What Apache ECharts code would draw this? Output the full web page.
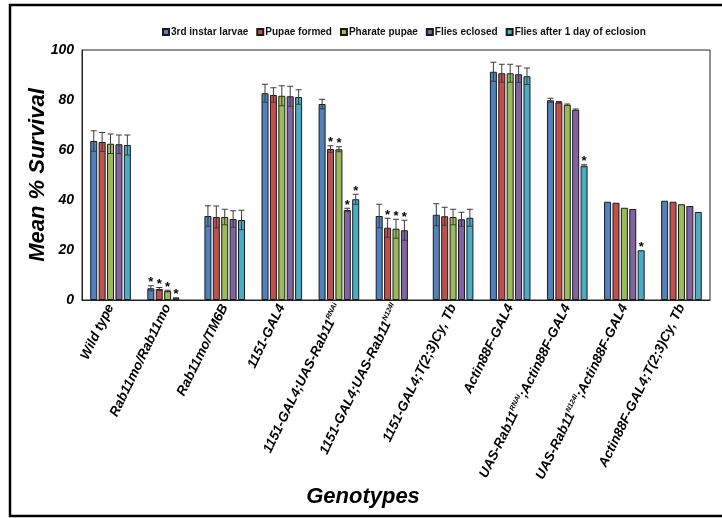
<!DOCTYPE html>
<html><head><meta charset="utf-8">
<script src="https://cdn.jsdelivr.net/npm/echarts@6/dist/echarts.min.js"></script>
<style>html,body{margin:0;padding:0;background:#fff}#c{width:722px;height:518px}</style>
</head><body><div id="c"></div>
<script>
// Categories (superscripts marked with ^...^)
const categories = [
  'Wild type',
  'Rab11mo/Rab11mo',
  'Rab11mo/TM6B',
  '1151-GAL4',
  '1151-GAL4;UAS-Rab11^RNAi^',
  '1151-GAL4;UAS-Rab11^N124I^',
  '1151-GAL4;T(2;3)Cy, Tb',
  'Actin88F-GAL4',
  'UAS-Rab11^RNAi^;Actin88F-GAL4',
  'UAS-Rab11^N124I^;Actin88F-GAL4',
  'Actin88F-GAL4;T(2;3)Cy, Tb'
];
const seriesNames = ['3rd instar larvae','Pupae formed','Pharate pupae','Flies eclosed','Flies after 1 day of eclosion'];
const seriesColors = ['#4F81BD','#C0504D','#9BBB59','#8064A2','#4BACC6'];

const larvae   = [63.6, 4.7, 33.6, 82.7, 78.4, 33.6, 34.1, 91.3, 79.9, 39.3, 39.7];
const pupae    = [63.2, 4.4, 33.2, 82.0, 60.4, 28.9, 33.5, 90.7, 79.1, 38.9, 39.3];
const pharate  = [62.5, 3.6, 33.2, 81.7, 60.3, 28.5, 33.2, 90.7, 78.1, 36.9, 38.3];
const eclosed  = [62.3, 0.7, 32.4, 81.5, 36.0, 27.9, 32.3, 90.3, 76.1, 36.4, 37.6];
const afterDay = [62.0, null, 32.0, 81.2, 40.3, null, 32.9, 89.5, 53.7, 19.9, 35.2];

const larvaeErr   = [4.1, 1.0, 4.1, 3.6, 1.9, 4.7, 4.4, 3.8, 0.8, 0, 0];
const pupaeErr    = [3.8, 0.6, 4.4, 2.9, 1.3, 3.8, 3.6, 3.6, 0.3, 0, 0];
const pharateErr  = [3.9, 0.3, 3.1, 4.0, 1.0, 3.8, 3.1, 3.6, 0.3, 0, 0];
const eclosedErr  = [3.7, 0.2, 3.3, 4.0, 0.7, 4.0, 2.8, 3.3, 0.3, 0, 0];
const afterDayErr = [4.0, 0,   3.9, 2.9, 2.0, 0,   3.4, 3.3, 0.4, 0, 0];

const larvaeSig   = [0,1,0,0,0,0,0,0,0,0,0];
const pupaeSig    = [0,1,0,0,1,1,0,0,0,0,0];
const pharateSig  = [0,1,0,0,1,1,0,0,0,0,0];
const eclosedSig  = [0,1,0,0,1,1,0,0,0,0,0];
const afterDaySig = [0,0,0,0,1,0,0,0,1,1,0];

const yTicks = [0, 20, 40, 60, 80, 100];

const values = [larvae, pupae, pharate, eclosed, afterDay];
const errs = [larvaeErr, pupaeErr, pharateErr, eclosedErr, afterDayErr];
const sigs = [larvaeSig, pupaeSig, pharateSig, eclosedSig, afterDaySig];

const BAR_W = 7;
const BAR_GAP = 0.2;
const PITCH = BAR_W * (1 + BAR_GAP);

function fmtLabel(s) {
  const parts = s.split('^');
  return parts.map((p, i) => p === '' ? '' : (i % 2 ? '{s|' + p + '}' : '{n|' + p + '}')).join('');
}

const series = [];
seriesNames.forEach((name, i) => {
  series.push({
    name: name, type: 'bar', data: values[i],
    barWidth: BAR_W, barGap: (BAR_GAP * 100) + '%',
    itemStyle: { color: seriesColors[i], borderColor: '#1a1a1a', borderWidth: 1 },
    z: 2
  });
});
seriesNames.forEach((name, i) => {
  const data = values[i].map((v, k) => [k, v, errs[i][k], sigs[i][k]]).filter(d => d[1] != null);
  series.push({
    type: 'custom', name: name + ' err', data: data, z: 5, silent: true,
    encode: { x: 0, y: 1 },
    renderItem: function (params, api) {
      const idx = api.value(0), v = api.value(1), e = api.value(2), s = api.value(3);
      const x = api.coord([idx, 0])[0] + (i - 2) * PITCH;
      const yT = api.coord([idx, v + e])[1];
      const yB = api.coord([idx, v - e])[1];
      const children = [];
      if (e > 0) {
        const st = { stroke: '#3a3a3a', lineWidth: 1 };
        children.push({ type: 'line', shape: { x1: x, y1: yT, x2: x, y2: yB }, style: st });
        children.push({ type: 'line', shape: { x1: x - 3, y1: yT, x2: x + 3, y2: yT }, style: st });
        children.push({ type: 'line', shape: { x1: x - 3, y1: yB, x2: x + 3, y2: yB }, style: st });
      }
      if (s) {
        children.push({ type: 'text', style: { text: '*', x: x, y: yT - 3, align: 'center', verticalAlign: 'middle',
          font: 'bold 13px "Liberation Sans", Arial, sans-serif', fill: '#000' } });
      }
      return { type: 'group', children: children };
    }
  });
});

const chart = echarts.init(document.getElementById('c'), null, { renderer: 'canvas' });
chart.setOption({
  animation: false,
  backgroundColor: '#fff',
  textStyle: { fontFamily: '"Liberation Sans", Arial, sans-serif' },
  legend: {
    data: seriesNames, top: 22, left: 157, itemWidth: 6, itemHeight: 6, itemGap: 8,
    icon: 'rect',
    textStyle: { fontSize: 10, fontWeight: 'bold', color: '#111', padding: [0, 0, 0, -3] }
  },
  grid: { left: 82, right: 12, top: 50, bottom: 218, show: true, borderColor: '#222', borderWidth: 1 },
  xAxis: {
    type: 'category', data: categories,
    axisTick: { show: false },
    axisLine: { lineStyle: { color: '#222', width: 1 } },
    axisLabel: {
      interval: 0, rotate: 64, margin: 5, color: '#000',
      formatter: fmtLabel,
      rich: {
        n: { fontSize: 13.5, fontWeight: 'bold', fontStyle: 'italic', color: '#000', lineHeight: 15 },
        s: { fontSize: 7, fontWeight: 'bold', fontStyle: 'italic', color: '#000', verticalAlign: 'top', lineHeight: 15 }
      }
    }
  },
  yAxis: {
    type: 'value', min: yTicks[0], max: yTicks[yTicks.length - 1], interval: 20,
    axisLine: { show: true, lineStyle: { color: '#222', width: 1 } },
    axisTick: { show: false },
    splitLine: { show: false },
    axisLabel: { fontSize: 14, fontWeight: 'bold', fontStyle: 'italic', color: '#000', margin: 8 }
  },
  graphic: [
    { type: 'rect', shape: { x: 10, y: 5, width: 740, height: 511 }, style: { fill: 'none', stroke: '#000', lineWidth: 2.5 }, z: 100 },
    { type: 'text', x: 38, y: 175, rotation: Math.PI / 2,
      style: { text: 'Mean % Survival', align: 'center', verticalAlign: 'middle',
        font: 'italic bold 22px "Liberation Sans", Arial, sans-serif', fill: '#000' } },
    { type: 'text', x: 363, y: 497,
      style: { text: 'Genotypes', align: 'center', verticalAlign: 'middle',
        font: 'italic bold 22px "Liberation Sans", Arial, sans-serif', fill: '#000' } }
  ],
  series: series
});
</script></body></html>
